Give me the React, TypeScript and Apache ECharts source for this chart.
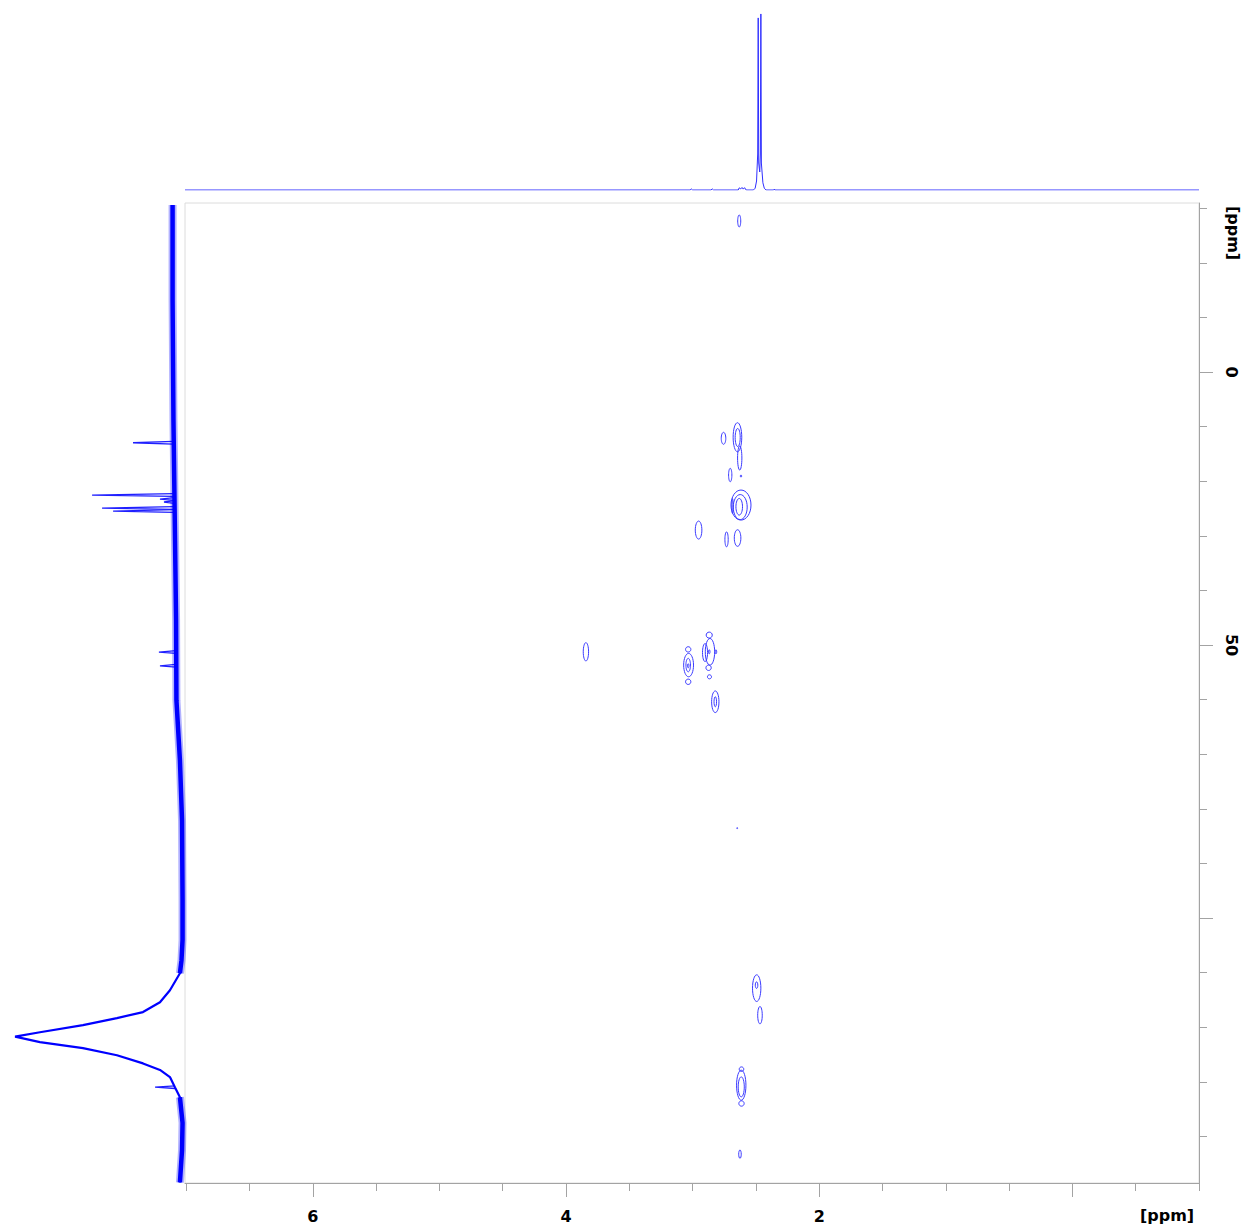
import React, { useEffect, useRef } from "react";
import * as echarts from "echarts";

// ---- axis extents (ppm) ----
const H_MIN = -1.0;
const H_MAX = 7.01;
const C_MIN = -30.95;
const C_MAX = 148.5;

// ---- tick values ----
const hMinorTicks = [-1, -0.5, 0, 0.5, 1, 1.5, 2, 2.5, 3, 3.5, 4, 4.5, 5, 5.5, 6, 6.5, 7];
const hMajorTicks = [0, 2, 4, 6];
const hTickLabels = [2, 4, 6];
const cMinorTicks = [-30, -20, -10, 0, 10, 20, 30, 40, 50, 60, 70, 80, 90, 100, 110, 120, 130, 140];
const cMajorTicks = [0, 50, 100];
const cTickLabels = [0, 50];

// ---- 1H projection (top) ----
const hShift = [7.01, 3.02, 3.011, 3.0, 2.855, 2.845, 2.835, 2.64, 2.632, 2.62, 2.61, 2.6, 2.59, 2.577, 2.52, 2.506, 2.495, 2.486, 2.482, 2.478, 2.47, 2.465, 2.461, 2.457, 2.445, 2.434, 2.42, 2.36, 2.355, 2.35, -1.0];
const hIntensity = [0, 0, 0.6, 0, 0, 0.6, 0, 0, 1.2, 0.6, 1.4, 0.5, 1.3, 0, 0, 1, 5, 20, 95.6, 15, 10, 20, 97.8, 15, 4, 1, 0, 0, 0.5, 0, 0];

// ---- 13C projection (left) ----
const cTraceShift = [-30.6, -13.2, 8.8, 30.8, 45.4, 60.1, 71.1, 82.1, 96.7, 104.0, 107.7, 110.1, 113.2, 115.4, 117.2, 118.3, 119.6, 120.9, 121.7, 122.7, 123.8, 125.1, 126.6, 127.8, 129.1, 131.0, 132.8, 137.5, 142.5, 148.4];
const cTraceIntensity = [7.1, 7.1, 6.6, 5.7, 5.1, 4.9, 2.9, 1.7, 1.4, 1.4, 2.0, 2.9, 8.6, 14.3, 24, 38.9, 58.3, 82.9, 97.1, 82.9, 58.3, 38.9, 24, 14.3, 8.6, 5.7, 2.9, 1.4, 1.7, 2.9];
const cPeakShift = [12.95, 22.53, 23.26, 23.8, 24.91, 25.46, 51.28, 53.79, 130.95];
const cPeakIntensity = [29.7, 53.1, 14.3, 12, 47.4, 41.1, 14.9, 14.3, 17.1];
const cPeakFoot = [6.6, 6.2, 6.2, 6.2, 6.2, 6.2, 5.1, 5.1, 5.7];

// ---- 2D contours (ellipses): 1H centre, 13C centre, 1H half-width, 13C half-width ----
const contourH = [2.632, 2.756, 2.646, 2.644, 2.628, 2.703, 2.618, 2.618, 2.624, 2.632, 2.685, 2.645, 2.953, 2.732, 2.648, 3.843, 3.032, 3.035, 3.035, 3.035, 3.035, 2.863, 2.869, 2.874, 2.902, 2.869, 2.816, 2.867, 2.821, 2.821, 2.494, 2.495, 2.468, 2.616, 2.614, 2.614, 2.616, 2.626];
const contourC = [-27.66, 12.14, 11.94, 11.99, 15.75, 18.86, 19.05, 24.36, 24.73, 24.67, 24.54, 30.4, 28.94, 30.64, 83.52, 51.23, 53.66, 50.79, 56.72, 53.66, 53.79, 51.23, 48.17, 54.16, 51.37, 51.23, 51.23, 55.81, 60.38, 60.38, 112.82, 112.27, 117.77, 130.59, 127.66, 133.94, 130.9, 143.22];
const contourRH = [0.012, 0.018, 0.034, 0.02, 0.017, 0.013, 0.006, 0.079, 0.055, 0.026, 0.005, 0.026, 0.026, 0.013, 0.004, 0.021, 0.039, 0.021, 0.021, 0.018, 0.006, 0.037, 0.024, 0.021, 0.02, 0.006, 0.006, 0.016, 0.029, 0.01, 0.033, 0.01, 0.018, 0.037, 0.018, 0.021, 0.024, 0.01];
const contourRC = [1.1, 1.1, 2.66, 1.65, 2.2, 1.23, 0.18, 2.75, 2.29, 1.52, 1.37, 1.52, 1.65, 1.37, 0.09, 1.68, 2.14, 0.49, 0.49, 1.23, 0.37, 2.44, 0.55, 0.49, 1.65, 0.37, 0.37, 0.37, 1.98, 0.92, 2.44, 0.6, 1.59, 2.75, 0.42, 0.49, 1.83, 0.77];

const AXIS_GRAY = "#a3a3a3";
const LABEL_FONT = "DejaVu Sans";

export default function App() {
  const ref = useRef<HTMLDivElement>(null);

  useEffect(() => {
    if (!ref.current) return;
    const chart = echarts.init(ref.current, undefined, { renderer: "svg" });

    const hData = hShift.map((s, i) => [s, hIntensity[i]]);
    const cTrace = cTraceShift.map((s, i) => [cTraceIntensity[i], s]);
    const cBandUpper = cTrace.filter((p) => p[1] <= 110.1);
    const cBandLower = cTrace.filter((p) => p[1] >= 132.8);
    const cSpikes = cPeakShift.map((s, i) => ({
      coords: [
        [cPeakFoot[i], s - 0.25],
        [cPeakIntensity[i], s],
        [cPeakFoot[i], s + 0.25],
      ],
    }));
    const contours = contourH.map((h, i) => [h, contourC[i], contourRH[i], contourRC[i]]);

    const labelStyle = {
      fontFamily: LABEL_FONT,
      fontWeight: "bold" as const,
      fontSize: 16,
      color: "#000",
    };

    const bandSeries = (name: string, data: number[][], width: number, opacity: number) => ({
      name,
      type: "line",
      xAxisIndex: 3,
      yAxisIndex: 3,
      data,
      symbol: "none",
      lineStyle: { color: "#0000ff", width, opacity },
    });

    const option: any = {
      animation: false,
      backgroundColor: "#fff",
      grid: [
        { left: 185, top: 203, width: 1014, height: 980, show: true, borderColor: "#dcdcdc", borderWidth: 1, backgroundColor: "transparent" },
        { left: 185, top: 10, width: 1014, height: 180 },
        { left: 10, top: 203, width: 175, height: 980 },
      ],
      xAxis: [
        {
          gridIndex: 0, type: "value", min: H_MIN, max: H_MAX, inverse: true, position: "bottom",
          axisLine: { show: true, onZero: false, lineStyle: { color: AXIS_GRAY } },
          axisTick: { show: true, customValues: hMinorTicks, length: 8, lineStyle: { color: AXIS_GRAY } },
          axisLabel: { show: false }, splitLine: { show: false },
        },
        {
          gridIndex: 0, type: "value", min: H_MIN, max: H_MAX, inverse: true, position: "bottom",
          axisLine: { show: false, onZero: false },
          axisTick: { show: true, customValues: hMajorTicks, length: 14, lineStyle: { color: AXIS_GRAY } },
          axisLabel: { show: true, customValues: hTickLabels, margin: 25, ...labelStyle },
          splitLine: { show: false },
        },
        { gridIndex: 1, type: "value", min: H_MIN, max: H_MAX, inverse: true, show: false, axisLine: { onZero: false } },
        { gridIndex: 2, type: "value", min: 0, max: 100, inverse: true, show: false, axisLine: { onZero: false } },
      ],
      yAxis: [
        {
          gridIndex: 0, type: "value", min: C_MIN, max: C_MAX, inverse: true, position: "right",
          axisLine: { show: true, onZero: false, lineStyle: { color: AXIS_GRAY } },
          axisTick: { show: true, customValues: cMinorTicks, length: 8, lineStyle: { color: AXIS_GRAY } },
          axisLabel: { show: false }, splitLine: { show: false },
        },
        {
          gridIndex: 0, type: "value", min: C_MIN, max: C_MAX, inverse: true, position: "right",
          axisLine: { show: false, onZero: false },
          axisTick: { show: true, customValues: cMajorTicks, length: 14, lineStyle: { color: AXIS_GRAY } },
          axisLabel: { show: true, customValues: cTickLabels, margin: 24, rotate: -90, ...labelStyle },
          splitLine: { show: false },
        },
        { gridIndex: 1, type: "value", min: 0, max: 100, show: false, axisLine: { onZero: false } },
        { gridIndex: 2, type: "value", min: C_MIN, max: C_MAX, inverse: true, show: false, axisLine: { onZero: false } },
      ],
      series: [
        {
          name: "HSQC contours",
          type: "custom",
          xAxisIndex: 0,
          yAxisIndex: 0,
          data: contours,
          encode: { x: 0, y: 1 },
          renderItem: (params: any, api: any) => {
            const c = api.coord([api.value(0), api.value(1)]);
            const s = api.size([api.value(2), api.value(3)]);
            return {
              type: "ellipse",
              shape: { cx: c[0], cy: c[1], rx: Math.max(Math.abs(s[0]), 0.5), ry: Math.max(Math.abs(s[1]), 0.5) },
              style: { fill: "none", stroke: "#3a3aff", lineWidth: 1 },
            };
          },
        },
        {
          name: "1H",
          type: "line",
          xAxisIndex: 2,
          yAxisIndex: 2,
          data: hData,
          symbol: "none",
          lineStyle: { color: "#2f2fff", width: 1 },
        },
        bandSeries("13C noise fringe upper", cBandUpper, 8, 0.3),
        bandSeries("13C noise fringe lower", cBandLower, 8, 0.3),
        bandSeries("13C noise upper", cBandUpper, 4.5, 1),
        bandSeries("13C noise lower", cBandLower, 4.5, 1),
        {
          name: "13C",
          type: "line",
          xAxisIndex: 3,
          yAxisIndex: 3,
          data: cTrace,
          symbol: "none",
          lineStyle: { color: "#0000ff", width: 2.2 },
        },
        {
          name: "13C peaks",
          type: "lines",
          coordinateSystem: "cartesian2d",
          xAxisIndex: 3,
          yAxisIndex: 3,
          polyline: true,
          data: cSpikes,
          lineStyle: { color: "#1f1fff", width: 1.3, opacity: 1 },
        },
      ],
      graphic: [
        {
          type: "text",
          x: 1167,
          y: 1215,
          style: {
            text: "[ppm]",
            font: `bold 16px "${LABEL_FONT}"`,
            fill: "#000",
            align: "center",
            verticalAlign: "middle",
            textAlign: "center",
            textVerticalAlign: "middle",
          },
        },
        {
          type: "text",
          x: 1233,
          y: 233,
          rotation: -Math.PI / 2,
          style: {
            text: "[ppm]",
            font: `bold 16px "${LABEL_FONT}"`,
            fill: "#000",
            align: "center",
            verticalAlign: "middle",
            textAlign: "center",
            textVerticalAlign: "middle",
          },
        },
      ],
    };

    chart.setOption(option);
    return () => chart.dispose();
  }, []);

  return (
    <div
      ref={ref}
      style={{ position: "fixed", left: 0, top: 0, width: 1247, height: 1230, background: "#fff" }}
    />
  );
}
